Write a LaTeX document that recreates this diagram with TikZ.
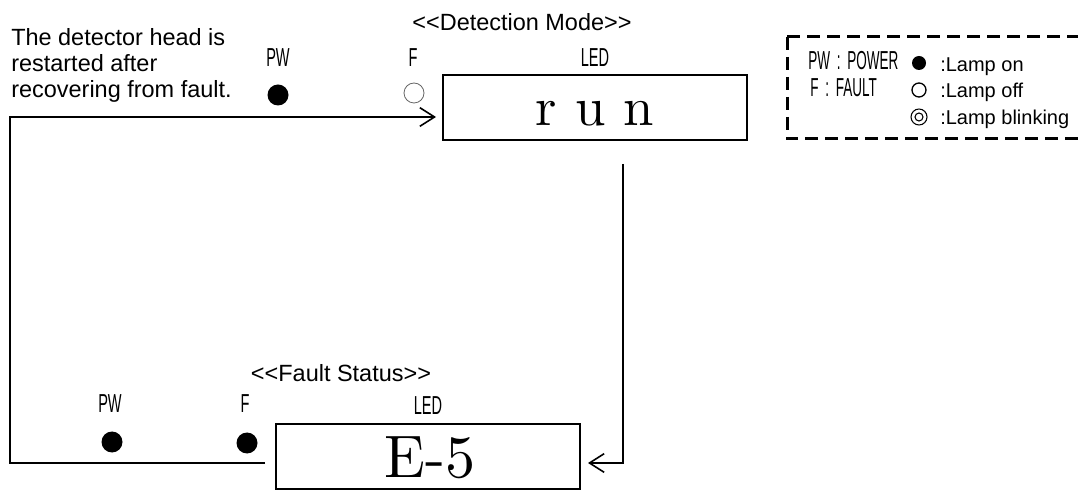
\documentclass[tikz,border=0pt]{standalone}
\usepackage{graphicx}
\usepackage{fontspec}
\usepackage{tikz}
\usetikzlibrary{arrows.meta,calc}
\newfontfamily\sffont{Liberation Sans}
\newfontfamily\ledfont{lmroman10-regular}[Extension=.otf]
\newcommand{\condtxt}[2][0.56]{\scalebox{#1}[1]{#2}}
\newcommand{\dlt}{<\kern0pt<}
\newcommand{\dgt}{>\kern0pt>}
\tikzset{
	ledbox/.style={draw, line width=1.5pt, minimum width=228pt, minimum height=48.75pt, inner sep=0pt},
	ledtext/.style={inner sep=0pt, font=\ledfont\fontsize{41}{41}\selectfont},
	lbl/.style={inner sep=0pt, font=\sffont\fontsize{19.5}{22}\selectfont},
	title/.style={inner sep=0pt, font=\sffont\fontsize{17.6}{19.5}\selectfont},
	legtxt/.style={inner sep=0pt, anchor=base west, font=\sffont\fontsize{15}{17}\selectfont},
	lampon/.style={circle, fill, inner sep=0pt, minimum size=15.75pt},
	lampoff/.style={circle, draw=black!60, line width=0.6pt, inner sep=0pt, minimum size=15pt},
	flow/.style={line width=1.5pt, -{Straight Barb[length=11pt,width=14pt,line width=1.2pt]}}
}
\begin{document}
\begin{tikzpicture}[x=0.75pt, y=-0.75pt]
		\useasboundingbox (0,0) rectangle (1078,491);
		% detection mode
		\node[title] (dettitle) at (522,22) {\dlt Detection Mode\dgt};
		\node[ledbox] (detbox) at (595,107.5) {};
		\node[ledtext] (runtext) at (595,114) {r u n};
		\node[lbl] (detled) at (595,58) {\condtxt{LED}};
		\node[lbl] (detpw) at (278,58) {\condtxt{PW}};
		\node[lbl] (detf) at (413,58) {\condtxt{F}};
		\node[lampon] (detpwlamp) at (278,95) {};
		\node[lampoff] (detflamp) at (414,93) {};
		\node[title, anchor=north west, align=left] (restart) at (11,28) {The detector head is\\restarted after\\recovering from fault.};
		% fault status
		\node[title] (faulttitle) at (341,373) {\dlt Fault Status\dgt};
		\node[ledbox] (faultbox) at (428,456.5) {};
		\node[ledtext, font=\ledfont\fontsize{45}{45}\selectfont] (e5text) at (430,458) {E-5};
		\node[lbl] (faultled) at (428,406) {\condtxt{LED}};
		\node[lbl] (faultpw) at (110,404) {\condtxt{PW}};
		\node[lbl] (faultf) at (245,404) {\condtxt{F}};
		\node[lampon] (faultpwlamp) at (112,442) {};
		\node[lampon] (faultflamp) at (247,443) {};
		% connectors
		\coordinate (retstart) at ($(faultbox.west)+(-10,6.5)$);
		\coordinate (retend) at ($(detbox.west)+(-6,9.5)$);
		\draw[flow] (retstart) -| (10,117) -- (retend);
		\coordinate (downstart) at ($(detbox.south)+(28,23)$);
		\coordinate (downend) at ($(faultbox.east)+(7,6.5)$);
		\draw[flow] (downstart) |- (downend);
		% legend
		\draw[line width=2.25pt, dash pattern=on 9.75pt off 5.25pt] (787,37) -- (787,139) -- (1090,139) (787,37) -- (1090,37);
		\node[lbl, anchor=base west] (legpw) at (808,70) {\condtxt[0.52]{PW\enspace:\enspace POWER}};
		\node[lbl, anchor=base west] (legf) at (810,97) {\condtxt[0.52]{F\enspace:\enspace FAULT}};
		\node[circle, fill, inner sep=0pt, minimum size=10.5pt] (legon) at (919,63) {};
		\node[circle, draw, line width=1pt, inner sep=0pt, minimum size=10.5pt] (legoff) at (919,90) {};
		\node[circle, draw, line width=0.8pt, inner sep=0pt, minimum size=12pt] (legblink) at (919,117) {};
		\node[circle, draw, line width=0.8pt, inner sep=0pt, minimum size=6pt] at (legblink) {};
		\node[legtxt] (legontxt) at (940,72) {:Lamp on};
		\node[legtxt] (legofftxt) at (940,98) {:Lamp off};
		\node[legtxt] (legblinktxt) at (940,125) {:Lamp blinking};
	\end{tikzpicture}
\end{document}
